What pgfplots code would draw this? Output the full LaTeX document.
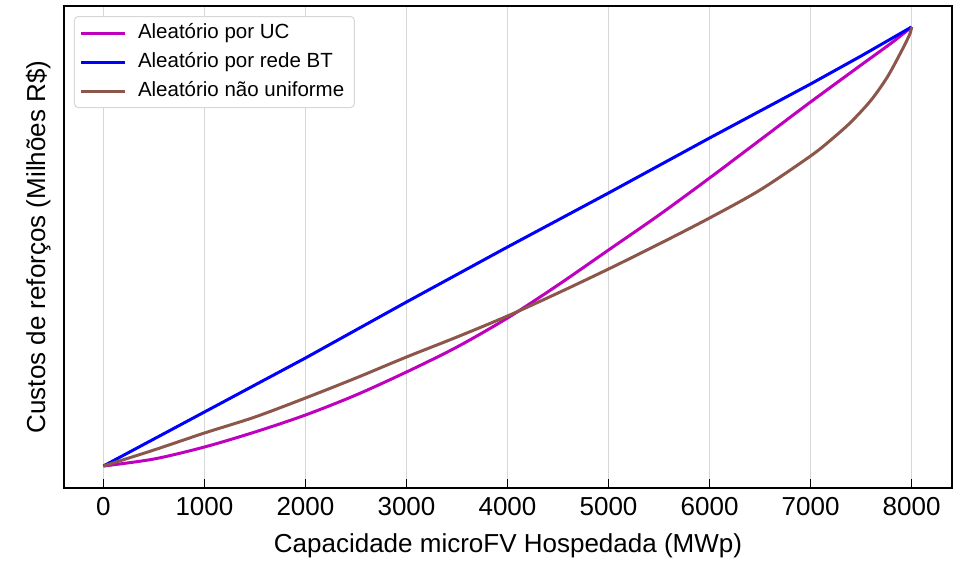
\documentclass[border=0pt]{standalone}
\usepackage{pgfplots}
\pgfplotsset{compat=1.18}
\usepackage{fontspec}
\setmainfont{Liberation Sans}
\definecolor{cMag}{RGB}{191,0,191}
\definecolor{cBlue}{RGB}{0,0,255}
\definecolor{cBrown}{RGB}{140,86,75}
\definecolor{cGrid}{RGB}{215,215,215}
\begin{document}
\begin{tikzpicture}
\begin{axis}[
  name=ax,
  scale only axis,
  width=355.2pt, height=192.8pt,
  xmin=-390, xmax=8400,
  ymin=0, ymax=482,
  xtick={0,1000,...,8000},
  ytick=\empty,
  xtick pos=bottom,
  tick align=inside,
  major tick length=3.7pt,
  every tick/.style={black, line width=0.5pt},
  xmajorgrids,
  grid style={cGrid, line width=0.55pt},
  axis line style={black, line width=1pt},
  /pgf/number format/assume math mode=true,
  /pgf/number format/1000 sep={},
  ticklabel style={font=\fontsize{10.4}{12}\selectfont},
  xlabel={Capacidade microFV Hospedada (MWp)},
  ylabel={Custos de reforços (Milhões R\$)},
  label style={font=\fontsize{10.4}{12}\selectfont},
  ylabel style={at={(axis description cs:0,0.5)}, anchor=south, rotate=0, yshift=1.8pt},
  xlabel style={yshift=-0.5pt},
  legend cell align=left,
  legend style={at={(0,1)}, anchor=north west, xshift=4pt, yshift=-4pt,
    font=\fontsize{8.2}{9.5}\selectfont, draw=cGrid, rounded corners=1.5pt,
    inner xsep=2pt, inner ysep=0.8pt,
    nodes={text height=6.2pt, text depth=1.8pt, inner ysep=1.8pt},
    /tikz/every odd column/.append style={column sep=2.6pt}},
  legend image code/.code={\draw[#1] (0pt,0pt) -- (17.6pt,0pt);},
]
\addplot[cMag, line width=1.2pt, smooth, tension=0.5] coordinates {
(0,22) (500,29) (1000,41) (1500,56) (2000,73) (2500,93) (3000,116) (3500,141) (4000,170) (4500,203) (5000,238) (5500,273) (6000,310) (6500,348) (7000,386) (7500,423) (7800,445) (8000,461)
};
\addlegendentry{Aleatório por UC}
\addplot[cBlue, line width=1.2pt] coordinates {
(0,22) (500,49) (1000,76) (2000,130) (3000,186) (4000,241) (5000,295) (6000,350) (7000,404) (7500,432) (8000,461)
};
\addlegendentry{Aleatório por rede BT}
\addplot[cBrown, line width=1.2pt, smooth, tension=0.5] coordinates {
(0,22) (500,38) (1000,55) (1500,71) (2000,90) (2500,110) (3000,131) (3500,151) (4000,172) (4500,195) (5000,219) (5500,244) (6000,270) (6500,298) (7000,332) (7200,348) (7400,366) (7600,388) (7760,411) (7890,435) (7960,449) (7990,456) (8000,461)
};
\addlegendentry{Aleatório não uniforme}
\end{axis}
\path (ax.south west)++(-25.6pt,-29.2pt) coordinate (bl);
\path (ax.north east)++(4.8pt,2.4pt) coordinate (tr);
\useasboundingbox (bl) rectangle (tr);
\end{tikzpicture}
\end{document}
